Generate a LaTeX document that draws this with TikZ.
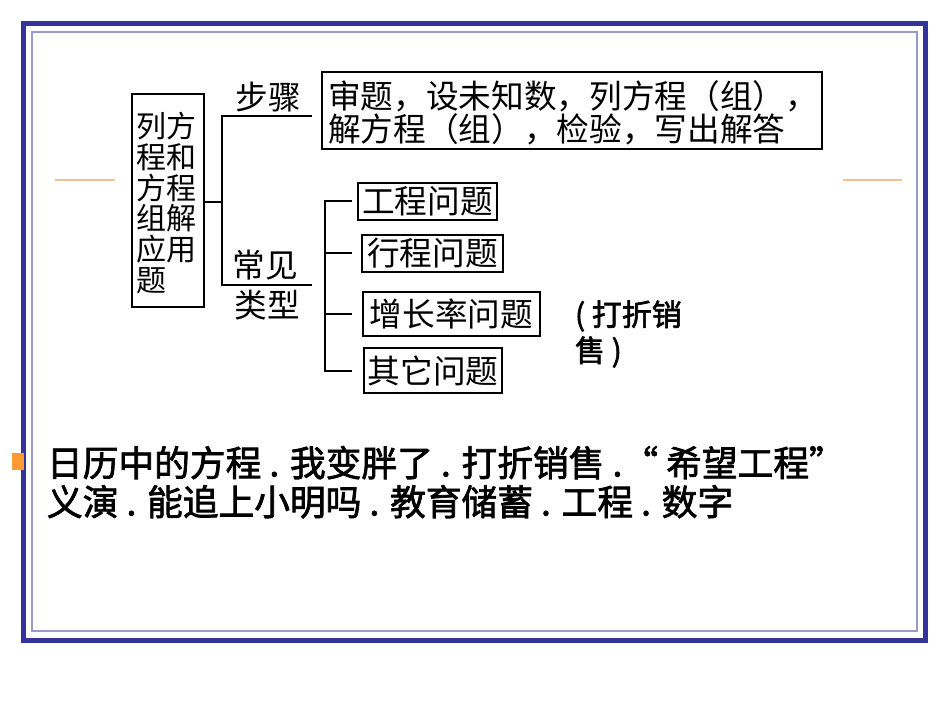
\documentclass[tikz,border=0pt]{standalone}
\usepackage{fontspec}
\setmainfont{Noto Sans CJK SC}
\newfontfamily\cjk{Noto Sans CJK SC}
\newfontfamily\cjkm[FakeBold=2]{Noto Sans CJK SC}
\usetikzlibrary{fit}
\definecolor{frameblue}{HTML}{333399}
\definecolor{framelite}{HTML}{9999CC}
\definecolor{tanline}{HTML}{F0C48C}
\definecolor{bulletorange}{HTML}{FF9933}
\tikzset{
  every node/.style={inner sep=0pt, outer sep=0pt},
  conn/.style={draw=black, line width=1.5pt},
  boxline/.style={draw=black, line width=1.5pt, inner sep=0pt},
  diag/.style={font=\cjk\fontsize{24.5}{23.25}\selectfont},
  hei/.style={font=\cjkm\fontsize{26.8}{29.25}\selectfont},
}
\begin{document}
\begin{tikzpicture}[x=0.75pt,y=-0.75pt]
\useasboundingbox (0,0) rectangle (950,713);
\fill[white] (0,0) rectangle (950,713);
% frame
\draw[frameblue, line width=3.75pt] (23.5,23.5) rectangle (925.5,640.5);
\draw[framelite, line width=1.2pt] (32,32) rectangle (917,631);
% decorative tan lines
\draw[tanline, line width=1.5pt] (55,180) -- (115,180);
\draw[tanline, line width=1.5pt] (843,180) -- (902,180);

% left main box
\node[boxline, fit={(132,94)(204,307)}] (L) {};
\node[font=\cjk\fontsize{22.5}{23}\selectfont, align=left] (Lt) at (166,203) {列方\\程和\\方程\\组解\\应用\\题};

% main bracket
\coordinate (b0) at (222,202);
\coordinate (bt) at (222,116);
\coordinate (bb) at (222,285);
\coordinate (st) at (312,116);
\coordinate (sb) at (312,285);
\draw[conn, line width=2pt] (L.east |- b0) -- (b0);
\draw[conn] (st) -- (bt) -- (bb) -- (sb);

% labels
\node[diag] (buzhou) at (268,97) {步骤};
\node[diag] (changjian) at (265,265) {常见};
\node[diag] (leixing) at (267,305) {类型};

% steps box
\node[boxline, fit={(322,72)(822,149)}] (S) {};
\node[diag, align=left, anchor=west] (St) at (328,112.5) {审题，设未知数，列方程（组），\\解方程（组），检验，写出解答};

% type boxes
\node[boxline, line width=2pt, fit={(358,183)(497,220)}] (T1) {};
\node[boxline, fit={(362,235)(503,272)}] (T2) {};
\node[boxline, fit={(363,292)(540,336)}] (T3) {};
\node[boxline, fit={(364,348)(502,393)}] (T4) {};
\node[diag] (T1t) at (T1.center) {工程问题};
\node[diag] (T2t) at (T2.center) {行程问题};
\node[diag] (T3t) at (T3.center) {增长率问题};
\node[diag] (T4t) at (T4.center) {其它问题};

% second bracket
\coordinate (V) at (325,0);
\coordinate (K) at (352,0);
\draw[conn] (T1.west -| K) -- (T1.west -| V) -- (T4.west -| V) -- (T4.west -| K);
\draw[conn] (T2.west -| K) -- (T2.west -| V);
\draw[conn] (T3.west -| K) -- (T3.west -| V);

% note
\node[font=\cjkm\fontsize{22.5}{27}\selectfont, align=left, anchor=west] (note) at (575,334) {( 打折销\\售 )};

% bullet and bottom text
\fill[bulletorange] (12,453) rectangle (24,470);
\node[hei, align=left, anchor=north west] (bt1) at (47,446) {日历中的方程 . 我变胖了 . 打折销售 .“ 希望工程”\\义演 . 能追上小明吗 . 教育储蓄 . 工程 . 数字};
\end{tikzpicture}
\end{document}
